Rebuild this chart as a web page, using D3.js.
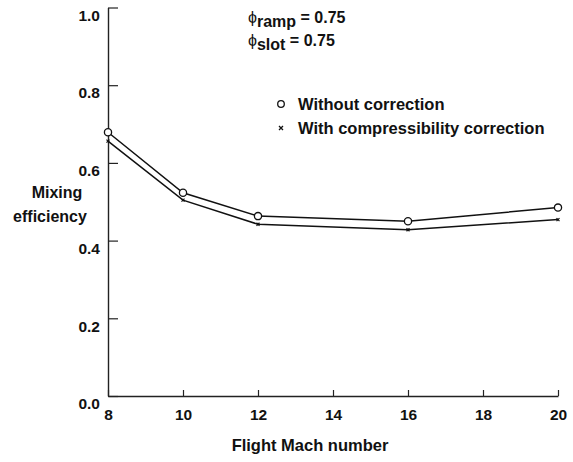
<!DOCTYPE html>
<meta charset="utf-8">
<style>
	body { margin: 0; background: #fff; }
	text { font-family: "Liberation Sans", Arial, sans-serif; font-weight: bold; fill: #111; }
</style>
<svg width="573" height="462"></svg>
<script src="https://d3js.org/d3.v7.min.js"></script>
<script>
	var mach = [8, 10, 12, 16, 20]
	var withoutCorr = [0.679, 0.523, 0.463, 0.450, 0.485]
	var withCorr = [0.656, 0.504, 0.442, 0.428, 0.454]
	var xTicks = [8, 10, 12, 14, 16, 18, 20]
	var yTicks = [0.0, 0.2, 0.4, 0.6, 0.8, 1.0]

	var svg = d3.select('svg')
	var x = d3.scaleLinear().domain([8, 20]).range([108, 558]),
		y = d3.scaleLinear().domain([0, 1]).range([396, 7.5])

	// axes, ticks pointing inward
	var xAxis = d3.axisBottom(x).tickValues(xTicks).tickSizeInner(-6).tickSizeOuter(0).tickPadding(15)
	var yAxis = d3.axisLeft(y).tickValues(yTicks).tickSizeInner(-10).tickSizeOuter(0).tickPadding(8)
		.tickFormat(d3.format('.1f'))

	var gx = svg.append('g').attr('transform', 'translate(0,396)').call(xAxis)
	var gy = svg.append('g').attr('transform', 'translate(108,0)').call(yAxis)
	svg.selectAll('.domain').attr('stroke', '#222').attr('stroke-width', 1.4)
	svg.selectAll('.tick line').attr('stroke', '#222').attr('stroke-width', 1.2)
	svg.selectAll('.tick text').style('font-size', '15.5px').attr('fill', '#111')
	gy.selectAll('.tick text').attr('dy', '0.82em')
	gx.selectAll('.tick text').attr('dy', '0.6em')

	// lines
	var line = d3.line()
		.x(function (d) { return x(d[0]) })
		.y(function (d) { return y(d[1]) })

	var upper = mach.map(function (m, i) { return [m, withoutCorr[i]] }),
		lower = mach.map(function (m, i) { return [m, withCorr[i]] })

	svg.append('path').attr('d', line(upper))
		.attr('fill', 'none').attr('stroke', '#111').attr('stroke-width', 1.5)
	svg.append('path').attr('d', line(lower))
		.attr('fill', 'none').attr('stroke', '#111').attr('stroke-width', 1.5)

	svg.selectAll('.pt').data(upper).enter().append('circle')
		.attr('cx', function (d) { return x(d[0]) })
		.attr('cy', function (d) { return y(d[1]) })
		.attr('r', 3.6)
		.attr('fill', '#fff').attr('stroke', '#111').attr('stroke-width', 1.3)

	svg.selectAll('.xm').data(lower).enter().append('path')
		.attr('transform', function (d) { return 'translate(' + x(d[0]) + ',' + y(d[1]) + ')' })
		.attr('d', 'M-1.5,-1.5L1.5,1.5M-1.5,1.5L1.5,-1.5')
		.attr('stroke', '#111').attr('stroke-width', 1.2)

	// legend
	svg.append('circle').attr('cx', 281).attr('cy', 104).attr('r', 3.3)
		.attr('fill', '#fff').attr('stroke', '#111').attr('stroke-width', 1.3)
	svg.append('path').attr('transform', 'translate(281,128)')
		.attr('d', 'M-2,-2L2,2M-2,2L2,-2').attr('stroke', '#111').attr('stroke-width', 1.3)
	svg.append('text').attr('x', 298).attr('y', 110).style('font-size', '16.5px').text('Without correction')
	svg.append('text').attr('x', 298).attr('y', 134).style('font-size', '16.5px').text('With compressibility correction')

	// phi annotations
	var phi = svg.append('text').attr('x', 248).attr('y', 23).style('font-size', '16px')
	phi.append('tspan').style('font-weight', 'normal').text('ϕ')
	phi.append('tspan').attr('dy', 4).text('ramp')
	phi.append('tspan').attr('dy', -4).text(' = 0.75')
	var phi2 = svg.append('text').attr('x', 248).attr('y', 46).style('font-size', '16px')
	phi2.append('tspan').style('font-weight', 'normal').text('ϕ')
	phi2.append('tspan').attr('dy', 4).text('slot')
	phi2.append('tspan').attr('dy', -4).text(' = 0.75')

	// axis titles
	svg.append('text').attr('x', 57).attr('y', 198).attr('text-anchor', 'middle').style('font-size', '16px').text('Mixing')
	svg.append('text').attr('x', 50).attr('y', 222).attr('text-anchor', 'middle').style('font-size', '16px').text('efficiency')
	svg.append('text').attr('x', 310).attr('y', 451).attr('text-anchor', 'middle').style('font-size', '16.5px').text('Flight Mach number')
</script>
